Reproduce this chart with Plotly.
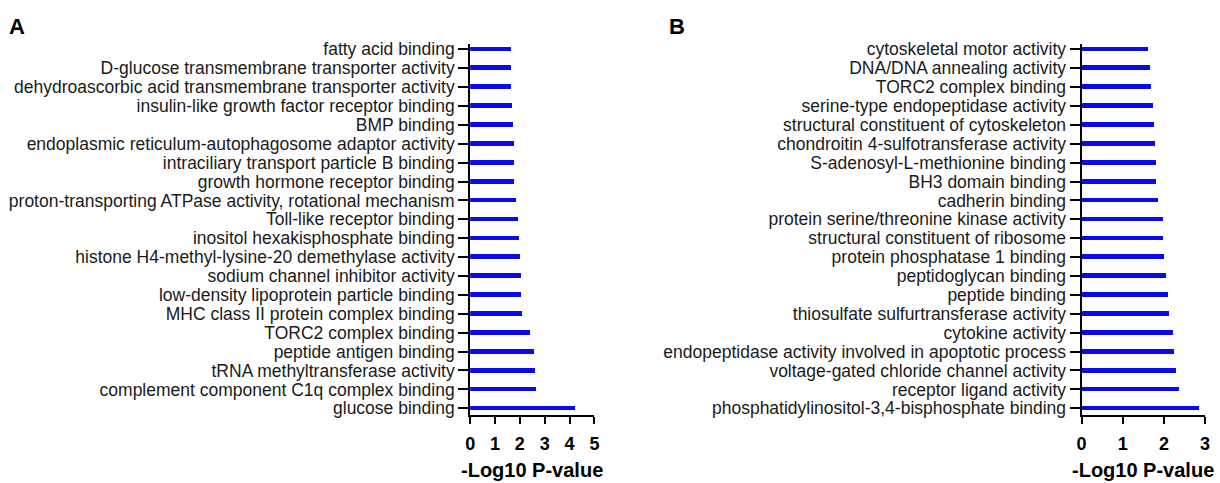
import plotly.graph_objects as go

terms_a = [
    "fatty acid binding",
    "D-glucose transmembrane transporter activity",
    "dehydroascorbic acid transmembrane transporter activity",
    "insulin-like growth factor receptor binding",
    "BMP binding",
    "endoplasmic reticulum-autophagosome adaptor activity",
    "intraciliary transport particle B binding",
    "growth hormone receptor binding",
    "proton-transporting ATPase activity, rotational mechanism",
    "Toll-like receptor binding",
    "inositol hexakisphosphate binding",
    "histone H4-methyl-lysine-20 demethylase activity",
    "sodium channel inhibitor activity",
    "low-density lipoprotein particle binding",
    "MHC class II protein complex binding",
    "TORC2 complex binding",
    "peptide antigen binding",
    "tRNA methyltransferase activity",
    "complement component C1q complex binding",
    "glucose binding",
]
values_a = [1.64, 1.66, 1.66, 1.69, 1.74, 1.76, 1.77, 1.78, 1.86, 1.94,
            1.99, 2.01, 2.06, 2.06, 2.10, 2.43, 2.57, 2.62, 2.67, 4.23]

terms_b = [
    "cytoskeletal motor activity",
    "DNA/DNA annealing activity",
    "TORC2 complex binding",
    "serine-type endopeptidase activity",
    "structural constituent of cytoskeleton",
    "chondroitin 4-sulfotransferase activity",
    "S-adenosyl-L-methionine binding",
    "BH3 domain binding",
    "cadherin binding",
    "protein serine/threonine kinase activity",
    "structural constituent of ribosome",
    "protein phosphatase 1 binding",
    "peptidoglycan binding",
    "peptide binding",
    "thiosulfate sulfurtransferase activity",
    "cytokine activity",
    "endopeptidase activity involved in apoptotic process",
    "voltage-gated chloride channel activity",
    "receptor ligand activity",
    "phosphatidylinositol-3,4-bisphosphate binding",
]
values_b = [1.61, 1.65, 1.67, 1.72, 1.75, 1.77, 1.80, 1.80, 1.84, 1.96,
            1.96, 1.99, 2.04, 2.08, 2.12, 2.21, 2.23, 2.29, 2.35, 2.85]

x_ticks_a = [0, 1, 2, 3, 4, 5]
x_ticks_b = [0, 1, 2, 3]
x_title = "-Log10 P-value"

W, H = 1220, 483
BLUE = "#0a0aee"
FONT = "Liberation Sans, Arial, sans-serif"

fig = go.Figure()
fig.add_trace(go.Bar(x=values_a, y=terms_a, orientation="h", marker_color=BLUE,
                     marker_line_width=0, width=0.25, xaxis="x", yaxis="y"))
fig.add_trace(go.Bar(x=values_b, y=terms_b, orientation="h", marker_color=BLUE,
                     marker_line_width=0, width=0.25, xaxis="x2", yaxis="y2"))

y_top, y_bot = 40, 417
ydom = [1 - y_bot / H, 1 - y_top / H]
xa_dom = [469 / W, 594.3 / W]
xb_dom = [1085.5 / W, 1210 / W]

def xaxis(dom, ticks, anchor):
    return dict(domain=dom, range=[0, ticks[-1]], tickmode="array", tickvals=ticks,
                ticktext=[str(t) for t in ticks],
                showline=True, linecolor="black", linewidth=2,
                ticks="outside", ticklen=7, tickwidth=2, tickcolor="black",
                showgrid=False, zeroline=False, anchor=anchor,
                ticklabelstandoff=4,
                tickfont=dict(family=FONT, size=18, color="black", weight="bold"))

def yaxis(terms, anchor):
    return dict(domain=ydom, type="category", categoryorder="array",
                categoryarray=terms[::-1], range=[-0.36, 19.26],
                tickmode="array", tickvals=terms, ticktext=terms,
                showline=True, linecolor="black", linewidth=2,
                ticks="outside", ticklen=10, tickwidth=2, tickcolor="black",
                showgrid=False, zeroline=False, anchor=anchor,
                ticklabelstandoff=0,
                tickfont=dict(family=FONT, size=17.5, color="#1a1a1a"))

fig.update_layout(
    width=W, height=H,
    margin=dict(l=0, r=0, t=0, b=0),
    paper_bgcolor="white", plot_bgcolor="white",
    showlegend=False, bargap=0,
    xaxis=xaxis(xa_dom, x_ticks_a, "y"),
    yaxis=yaxis(terms_a, "x"),
    xaxis2=xaxis(xb_dom, x_ticks_b, "y2"),
    yaxis2=yaxis(terms_b, "x2"),
)

for dom in (xa_dom, xb_dom):
    fig.add_annotation(text="<b>" + x_title + "</b>", xref="paper", yref="paper",
                       x=(dom[0] + dom[1]) / 2, y=1 - 473 / H,
                       xanchor="center", yanchor="middle", showarrow=False,
                       font=dict(family=FONT, size=20, color="black"))

for letter, px in (("A", 12), ("B", 678)):
    fig.add_annotation(text="<b>" + letter + "</b>", xref="paper", yref="paper",
                       x=px / W, y=1 - 22 / H, xanchor="center", yanchor="middle",
                       showarrow=False, font=dict(family=FONT, size=22, color="black"))

fig.write_html("out.html",
               config={"displayModeBar": False},
               post_script="document.body.style.margin='0px';"
                           "document.documentElement.style.overflow='hidden';")
